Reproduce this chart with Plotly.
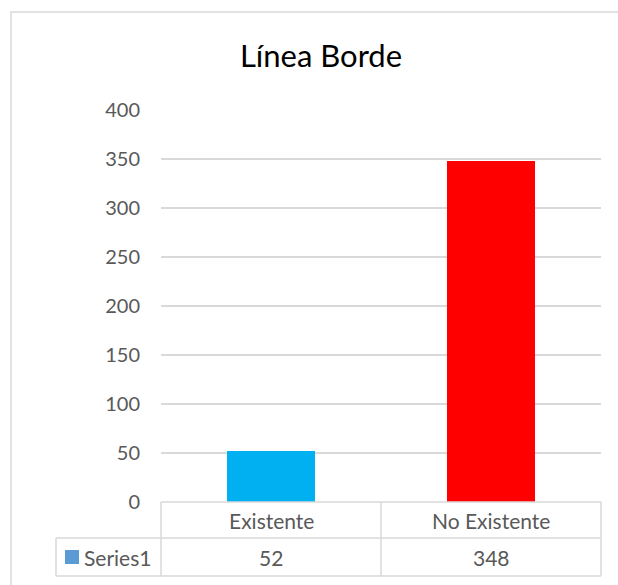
import plotly.graph_objects as go

# data
categories = ["Existente", "No Existente"]
values = [52, 348]
bar_colors = ["#00B0F0", "#FF0000"]
series_name = "Series1"
y_ticks = [0, 50, 100, 150, 200, 250, 300, 350, 400]

W, H = 618, 585
FONT = "Lato"
GREY = "#595959"
LINE = "#D9D9D9"


def px(x):
    return x / W


def py(y):
    return 1 - y / H


fig = go.Figure()
fig.add_trace(go.Bar(
    x=categories,
    y=values,
    width=0.4,
    marker=dict(color=bar_colors, line=dict(width=0)),
    name=series_name,
    showlegend=False,
))

shapes = []
# chart area border (only left/top visible in the frame)
shapes.append(dict(type="rect", xref="paper", yref="paper",
                   x0=px(11), x1=1.2, y0=-0.2, y1=py(12),
                   line=dict(color=LINE, width=1.5)))

# data table grid
row1_top, row1_bot, row2_bot = 502, 538, 576
for xr in [px(161), px(381), px(601)]:
    shapes.append(dict(type="line", xref="paper", yref="paper",
                       x0=xr, x1=xr, y0=py(row1_top), y1=py(row2_bot),
                       line=dict(color=LINE, width=1.5)))
shapes.append(dict(type="line", xref="paper", yref="paper",
                   x0=px(56), x1=px(56), y0=py(row1_bot), y1=py(row2_bot),
                   line=dict(color=LINE, width=1.5)))
shapes.append(dict(type="line", xref="paper", yref="paper",
                   x0=px(161), x1=px(601), y0=py(row1_top), y1=py(row1_top),
                   line=dict(color=LINE, width=1.5)))
for yr in (row1_bot, row2_bot):
    shapes.append(dict(type="line", xref="paper", yref="paper",
                       x0=px(56), x1=px(601), y0=py(yr), y1=py(yr),
                       line=dict(color=LINE, width=1.5)))
# legend key
shapes.append(dict(type="rect", xref="paper", yref="paper",
                   x0=px(65), x1=px(79), y0=py(564), y1=py(550),
                   fillcolor="#5B9BD5", line=dict(width=0)))

annotations = []
for cat, val in zip(categories, values):
    annotations.append(dict(x=cat, y=py(520), xref="x", yref="paper",
                            text=cat, showarrow=False, yanchor="middle",
                            font=dict(family=FONT, size=21, color=GREY)))
    annotations.append(dict(x=cat, y=py(557), xref="x", yref="paper",
                            text=str(val), showarrow=False, yanchor="middle",
                            font=dict(family=FONT, size=21, color=GREY)))
annotations.append(dict(x=px(82), y=py(557), xref="paper", yref="paper",
                        text=series_name, showarrow=False, xanchor="left",
                        yanchor="middle",
                        font=dict(family=FONT, size=21, color=GREY)))

fig.update_layout(
    width=W, height=H,
    margin=dict(l=0, r=0, t=0, b=0),
    paper_bgcolor="white",
    plot_bgcolor="white",
    title=dict(text="Línea Borde", x=px(321), xanchor="center",
               y=py(56), yanchor="middle", yref="container",
               font=dict(family=FONT, size=31, color="#000000")),
    xaxis=dict(domain=[px(161), px(601)], showticklabels=False,
               showgrid=False, zeroline=False, showline=False,
               range=[-0.5, 1.5]),
    yaxis=dict(domain=[py(502), py(110)], range=[0, 400],
               tickvals=y_ticks, showgrid=True, gridcolor=LINE,
               gridwidth=1.5, zeroline=False, showline=False,
               ticklabelstandoff=20, automargin=False,
               tickfont=dict(family=FONT, size=20, color=GREY)),
    shapes=shapes,
    annotations=annotations,
)

fig.write_html("out.html", config={"displayModeBar": False},
               post_script="document.body.style.margin='0';")
